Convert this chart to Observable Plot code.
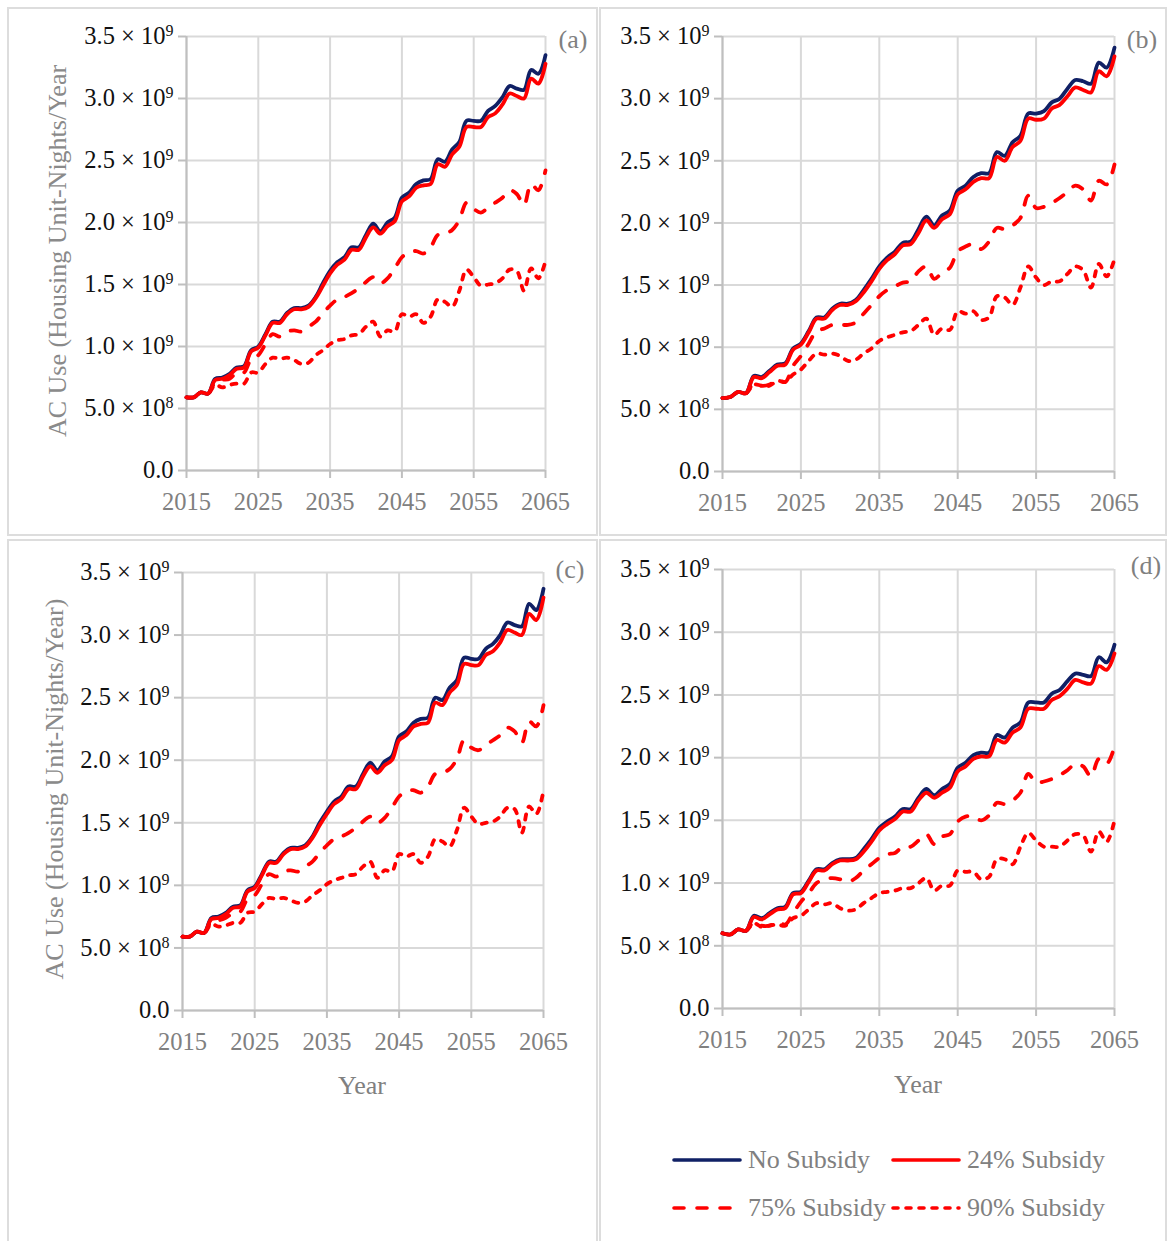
<!DOCTYPE html>
<html><head><meta charset="utf-8">
<script src="https://cdn.jsdelivr.net/npm/d3@7"></script>
<script src="https://cdn.jsdelivr.net/npm/@observablehq/plot@0.6"></script>
<style>
html,body{margin:0;padding:0;background:#fff;}
body{width:1168px;height:1241px;position:relative;overflow:hidden;font-family:"Liberation Serif",serif;}
.box{position:absolute;border:2px solid #dddddd;box-sizing:border-box;}
.chart{position:absolute;}
.txt{position:absolute;color:#808080;font-size:26px;white-space:nowrap;line-height:1;}
.ytitle{position:absolute;color:#8a8a8a;font-size:26px;white-space:nowrap;line-height:1;transform:translate(-50%,-50%) rotate(-90deg);}
.ctr{transform:translate(-50%,-50%);}
.leg{position:absolute;display:flex;align-items:center;color:#808080;font-size:26px;white-space:nowrap;}
.leg svg{margin-right:5px;}
</style></head><body>
<script>
// ---------- data ----------
const years = [2015,2016,2017,2018,2019,2020,2021,2022,2023,2024,2025,2026,2027,2028,2029,2030,2031,2032,2033,2034,2035,2036,2037,2038,2039,2040,2041,2042,2043,2044,2045,2046,2047,2048,2049,2050,2051,2052,2053,2054,2055,2056,2057,2058,2059,2060,2061,2062,2063,2064,2065];
const seriesNames = ["No Subsidy","24% Subsidy","75% Subsidy","90% Subsidy"];
const xTicks = [2015,2025,2035,2045,2055,2065];
const yTicks = [0,0.5,1.0,1.5,2.0,2.5,3.0,3.5];           // units of 10^9
const yTickLabels = ["0.0","5.0 × 10^8","1.0 × 10^9","1.5 × 10^9","2.0 × 10^9","2.5 × 10^9","3.0 × 10^9","3.5 × 10^9"];
const panelLabels = ["(a)","(b)","(c)","(d)"];

// panel (a)
const aNone = [0.59,0.59,0.63,0.62,0.74,0.75,0.78,0.83,0.84,0.97, 1.00,1.10,1.20,1.20,1.27,1.31,1.31,1.33,1.40,1.51, 1.61,1.68,1.72,1.80,1.80,1.90,1.99,1.93,2.00,2.04, 2.20,2.24,2.31,2.34,2.35,2.51,2.49,2.59,2.65,2.82, 2.82,2.82,2.90,2.94,3.01,3.10,3.08,3.07,3.23,3.20,3.35];
const a24   = [0.59,0.59,0.63,0.62,0.73,0.74,0.77,0.82,0.83,0.96, 0.99,1.09,1.19,1.19,1.26,1.30,1.30,1.32,1.39,1.49, 1.59,1.66,1.70,1.78,1.78,1.88,1.96,1.91,1.97,2.01, 2.17,2.21,2.28,2.30,2.31,2.47,2.45,2.55,2.61,2.77, 2.77,2.77,2.85,2.88,2.95,3.04,3.02,3.00,3.16,3.12,3.28];
const a75   = [0.59,0.59,0.63,0.62,0.71,0.73,0.74,0.79,0.79,0.90, 0.93,1.02,1.10,1.08,1.12,1.13,1.12,1.16,1.20,1.27, 1.33,1.38,1.40,1.43,1.47,1.52,1.56,1.51,1.55,1.63, 1.72,1.76,1.77,1.75,1.80,1.90,1.91,1.94,2.02,2.16, 2.11,2.08,2.12,2.16,2.20,2.26,2.23,2.14,2.31,2.26,2.42];
const a90   = [0.59,0.59,0.63,0.62,0.69,0.67,0.69,0.70,0.70,0.79, 0.79,0.86,0.91,0.90,0.91,0.89,0.86,0.87,0.93,0.97, 1.02,1.05,1.06,1.09,1.10,1.16,1.20,1.08,1.13,1.12, 1.26,1.24,1.26,1.19,1.24,1.38,1.36,1.32,1.45,1.62, 1.56,1.49,1.50,1.51,1.55,1.62,1.61,1.45,1.63,1.55,1.69];
// panel (b)
const bNone = [0.59,0.60,0.64,0.63,0.77,0.76,0.81,0.86,0.87,0.99, 1.03,1.13,1.24,1.24,1.31,1.35,1.35,1.38,1.46,1.55, 1.65,1.72,1.77,1.84,1.85,1.95,2.05,1.98,2.06,2.10, 2.26,2.30,2.37,2.40,2.40,2.57,2.54,2.65,2.70,2.88, 2.88,2.90,2.97,3.00,3.08,3.15,3.14,3.12,3.29,3.25,3.41];
const b24   = [0.59,0.60,0.64,0.63,0.76,0.75,0.80,0.85,0.86,0.98, 1.02,1.12,1.23,1.23,1.30,1.34,1.34,1.37,1.44,1.53, 1.63,1.70,1.75,1.82,1.83,1.92,2.02,1.96,2.03,2.07, 2.23,2.27,2.33,2.36,2.36,2.53,2.50,2.61,2.66,2.84, 2.83,2.84,2.92,2.95,3.02,3.09,3.07,3.05,3.22,3.18,3.34];
const b75   = [0.59,0.60,0.64,0.63,0.71,0.69,0.70,0.74,0.72,0.85, 0.93,1.03,1.13,1.15,1.18,1.18,1.18,1.20,1.27,1.34, 1.41,1.46,1.49,1.52,1.53,1.61,1.65,1.55,1.60,1.64, 1.77,1.81,1.83,1.79,1.85,1.96,1.95,1.98,2.04,2.22, 2.12,2.13,2.16,2.20,2.25,2.30,2.27,2.18,2.34,2.31,2.47];
const b90   = [0.59,0.60,0.64,0.63,0.70,0.69,0.69,0.73,0.72,0.78, 0.82,0.89,0.95,0.94,0.95,0.93,0.89,0.90,0.95,0.99, 1.05,1.08,1.10,1.12,1.13,1.18,1.23,1.10,1.15,1.14, 1.29,1.27,1.29,1.22,1.24,1.41,1.40,1.34,1.48,1.65, 1.56,1.50,1.53,1.53,1.59,1.65,1.62,1.48,1.67,1.57,1.71];
// panel (c)
const cNone = [0.59,0.59,0.63,0.62,0.74,0.75,0.78,0.83,0.84,0.96, 0.99,1.09,1.19,1.19,1.26,1.30,1.30,1.32,1.39,1.50, 1.59,1.67,1.71,1.79,1.79,1.89,1.98,1.92,1.99,2.03, 2.19,2.23,2.30,2.33,2.34,2.50,2.48,2.58,2.64,2.82, 2.81,2.81,2.89,2.93,3.00,3.10,3.08,3.07,3.25,3.20,3.37];
const c24   = [0.59,0.59,0.63,0.62,0.73,0.74,0.77,0.82,0.83,0.95, 0.98,1.08,1.18,1.18,1.25,1.29,1.29,1.31,1.38,1.48, 1.57,1.65,1.69,1.77,1.77,1.87,1.95,1.90,1.96,2.00, 2.16,2.20,2.27,2.29,2.30,2.46,2.44,2.54,2.60,2.77, 2.76,2.76,2.84,2.87,2.94,3.04,3.02,3.00,3.17,3.12,3.30];
const c75   = [0.59,0.59,0.63,0.62,0.71,0.72,0.74,0.78,0.79,0.89, 0.92,1.01,1.09,1.07,1.11,1.12,1.11,1.15,1.19,1.26, 1.32,1.37,1.39,1.42,1.46,1.51,1.55,1.50,1.54,1.62, 1.71,1.75,1.76,1.74,1.79,1.89,1.90,1.93,2.01,2.16, 2.10,2.08,2.12,2.16,2.20,2.26,2.23,2.14,2.31,2.27,2.44];
const c90   = [0.59,0.59,0.63,0.62,0.69,0.67,0.68,0.70,0.70,0.78, 0.79,0.85,0.90,0.89,0.90,0.88,0.86,0.87,0.92,0.96, 1.01,1.04,1.06,1.08,1.09,1.15,1.19,1.06,1.12,1.11, 1.25,1.23,1.25,1.18,1.23,1.37,1.35,1.31,1.44,1.62, 1.55,1.49,1.50,1.51,1.55,1.62,1.61,1.42,1.63,1.57,1.76];
// panel (d)
const dNone = [0.60,0.59,0.63,0.62,0.74,0.72,0.76,0.80,0.81,0.92, 0.93,1.02,1.11,1.11,1.16,1.19,1.19,1.20,1.27,1.35, 1.44,1.49,1.53,1.59,1.59,1.68,1.75,1.70,1.75,1.79, 1.92,1.96,2.02,2.04,2.04,2.18,2.16,2.24,2.28,2.44, 2.44,2.44,2.51,2.54,2.61,2.67,2.66,2.65,2.80,2.76,2.90];
const d24   = [0.60,0.59,0.63,0.62,0.73,0.71,0.75,0.79,0.80,0.91, 0.92,1.01,1.10,1.10,1.15,1.18,1.18,1.19,1.25,1.33, 1.42,1.47,1.51,1.57,1.57,1.66,1.72,1.68,1.72,1.76, 1.89,1.93,1.99,2.01,2.01,2.14,2.12,2.20,2.24,2.39, 2.39,2.39,2.46,2.49,2.55,2.62,2.60,2.59,2.73,2.70,2.83];
const d75   = [0.60,0.59,0.63,0.62,0.69,0.66,0.66,0.69,0.67,0.76, 0.85,0.92,1.00,1.03,1.04,1.03,1.01,1.04,1.10,1.15, 1.20,1.23,1.24,1.29,1.29,1.34,1.39,1.31,1.37,1.39, 1.49,1.53,1.53,1.50,1.54,1.64,1.63,1.66,1.72,1.87, 1.80,1.81,1.83,1.86,1.90,1.95,1.93,1.85,1.99,1.95,2.09];
const d90   = [0.60,0.59,0.63,0.62,0.68,0.65,0.66,0.67,0.66,0.72, 0.74,0.79,0.84,0.83,0.84,0.80,0.78,0.79,0.84,0.88, 0.92,0.93,0.94,0.96,0.96,1.00,1.04,0.94,0.98,0.98, 1.10,1.09,1.09,1.03,1.05,1.19,1.19,1.15,1.29,1.40, 1.34,1.29,1.29,1.29,1.34,1.39,1.38,1.25,1.41,1.33,1.50];

// ---------- styles ----------
const seriesStyle = {
  "No Subsidy":  {stroke:"#102065", dash:null},
  "24% Subsidy": {stroke:"#ff0000", dash:null},
  "75% Subsidy": {stroke:"#ff0000", dash:"10,13"},
  "90% Subsidy": {stroke:"#ff0000", dash:"5,8"}
};
const drawOrder = ["90% Subsidy","75% Subsidy","No Subsidy","24% Subsidy"];
const FONT = "'Liberation Serif', serif";

function el(cls, css, html) {
  const d = document.createElement("div");
  d.className = cls;
  Object.assign(d.style, css);
  if (html != null) d.innerHTML = html;
  document.body.appendChild(d);
  return d;
}

function makePanel(seriesArrays, g) {
  const rows = [];
  seriesNames.forEach((s, i) => seriesArrays[i].forEach((v, j) => rows.push({year: years[j], value: v, series: s})));
  const lineMarks = drawOrder.map(s => Plot.line(rows.filter(r => r.series === s), {
    x: "year", y: "value", stroke: seriesStyle[s].stroke, strokeWidth: 3.8,
    strokeDasharray: seriesStyle[s].dash, strokeLinecap: "round", strokeLinejoin: "round",
    curve: "catmull-rom"
  }));
  const chart = Plot.plot({
    width: g.w, height: g.h,
    marginLeft: g.ml, marginRight: g.mr, marginTop: g.mt, marginBottom: g.mb,
    x: {domain: [2015, 2065]},
    y: {domain: [0, 3.5]},
    style: {fontFamily: FONT, background: "transparent", overflow: "visible"},
    marks: [
      Plot.gridX(xTicks, {stroke: "#d9d9d9", strokeOpacity: 1, strokeWidth: 2}),
      Plot.gridY(yTicks, {stroke: "#d9d9d9", strokeOpacity: 1, strokeWidth: 2}),
      Plot.ruleX([2015], {stroke: "#bfbfbf", strokeWidth: 2}),
      Plot.ruleY([0], {stroke: "#bfbfbf", strokeWidth: 2}),
      Plot.axisX(xTicks, {tickSize: 8, tickPadding: 14, stroke: "#bfbfbf", strokeWidth: 2, fill: "#808080",
        fontSize: 24.5, label: null, tickFormat: d => String(d)}),
      Plot.axisY(yTicks, {tickSize: 8, tickPadding: 5, stroke: "#bfbfbf", strokeWidth: 2, fill: "#111",
        fontSize: 24.5, label: null, tickFormat: d => yTickLabels[yTicks.indexOf(d)]}),
      ...lineMarks
    ]
  });
  chart.classList.add("chart");
  chart.style.left = g.left + "px";
  chart.style.top = g.top + "px";
  document.body.appendChild(chart);
  // superscript exponents
  chart.querySelectorAll("text").forEach(t => {
    const s = t.textContent;
    if (s.includes("^")) {
      const [base, exp] = s.split("^");
      t.textContent = base;
      const ts = document.createElementNS("http://www.w3.org/2000/svg", "tspan");
      ts.setAttribute("dy", "-0.5em");
      ts.setAttribute("font-size", "16");
      ts.textContent = exp;
      t.appendChild(ts);
    }
  });
  return chart;
}

// panel boxes
el("box", {left:"7px", top:"7px", width:"591px", height:"529px"});
el("box", {left:"599px", top:"7px", width:"568px", height:"529px"});
el("box", {left:"7px", top:"539px", width:"591px", height:"710px"});
el("box", {left:"599px", top:"539px", width:"568px", height:"710px"});

makePanel([aNone, a24, a75, a90], {left:8,   top:8,   w:589, h:527, ml:178, mr:52, mt:28, mb:65});
makePanel([bNone, b24, b75, b90], {left:601, top:8,   w:565, h:527, ml:121, mr:52, mt:28, mb:64});
makePanel([cNone, c24, c75, c90], {left:8,   top:541, w:589, h:699, ml:174, mr:54, mt:31, mb:230});
makePanel([dNone, d24, d75, d90], {left:601, top:541, w:565, h:699, ml:121, mr:52, mt:28, mb:232});

// panel letters
el("txt ctr", {left:"573px", top:"40px"}, panelLabels[0]);
el("txt ctr", {left:"1142px", top:"40px"}, panelLabels[1]);
el("txt ctr", {left:"570px", top:"570px"}, panelLabels[2]);
el("txt ctr", {left:"1146px", top:"566px"}, panelLabels[3]);

// axis titles
el("ytitle", {left:"58px", top:"251px"}, "AC Use (Housing Unit-Nights/Year");
el("ytitle", {left:"55px", top:"789px"}, "AC Use (Housing Unit-Nights/Year)");
el("txt ctr", {left:"362px", top:"1086px"}, "Year");
el("txt ctr", {left:"918px", top:"1085px"}, "Year");

// legend
function legendItem(name, x, y) {
  const st = seriesStyle[name];
  const dash = st.dash ? `stroke-dasharray="${st.dash}"` : "";
  const svg = `<svg width="72" height="10"><line x1="3" y1="5" x2="69" y2="5" stroke="${st.stroke}" stroke-width="3.6" stroke-linecap="round" ${dash}/></svg>`;
  el("leg", {left: x + "px", top: y + "px", transform: "translateY(-50%)"}, svg + `<span>${name}</span>`);
}
legendItem(seriesNames[0], 671, 1160);
legendItem(seriesNames[1], 890, 1160);
legendItem(seriesNames[2], 671, 1208);
legendItem(seriesNames[3], 890, 1208);
</script>
</body></html>
